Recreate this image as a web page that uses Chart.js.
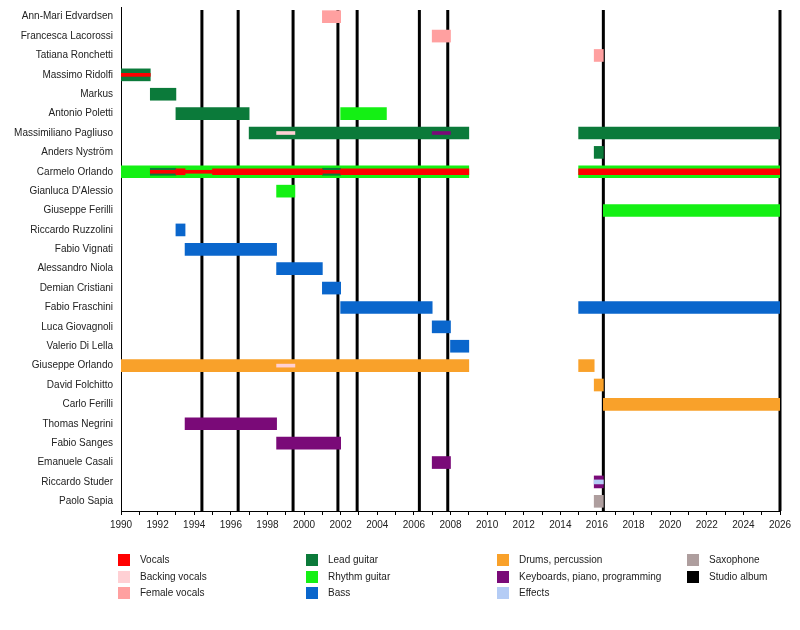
<!DOCTYPE html>
<html>
<head>
<meta charset="utf-8">
<script src="https://cdn.jsdelivr.net/npm/chart.js@4"></script>
<style>
  body { margin: 0; background: #fff; font-family: 'Liberation Sans', Arial, sans-serif; overflow: hidden; }
  #wrap { position: relative; width: 800px; height: 547px; margin-top: -7px; }
  #legend { position: absolute; left: 0; top: 0; width: 800px; height: 630px; pointer-events: none; }
  .item { position: absolute; font-size: 10px; color: #222; line-height: 12px; white-space: nowrap; }
  .item span { position: absolute; left: 0; top: 0; width: 12px; height: 12px; }
  .item b { font-weight: normal; position: absolute; left: 22px; top: 0; }
</style>
</head>
<body>
<div id="wrap"><canvas id="chart"></canvas></div>
<div id="legend"></div>
<script>
const members = ['Ann-Mari Edvardsen', 'Francesca Lacorossi', 'Tatiana Ronchetti', 'Massimo Ridolfi', 'Markus',
  'Antonio Poletti', 'Massimiliano Pagliuso', 'Anders Nyström', 'Carmelo Orlando', "Gianluca D'Alessio",
  'Giuseppe Ferilli', 'Riccardo Ruzzolini', 'Fabio Vignati', 'Alessandro Niola', 'Demian Cristiani',
  'Fabio Fraschini', 'Luca Giovagnoli', 'Valerio Di Lella', 'Giuseppe Orlando', 'David Folchitto',
  'Carlo Ferilli', 'Thomas Negrini', 'Fabio Sanges', 'Emanuele Casali', 'Riccardo Studer', 'Paolo Sapia'];

// main roles: [member, from, to]
const femaleVocals = [['Ann-Mari Edvardsen', 2001, 2002], ['Francesca Lacorossi', 2007, 2008], ['Tatiana Ronchetti', 2015.85, 2016.35]];
const leadGuitar = [['Massimo Ridolfi', 1990, 1991.6], ['Markus', 1991.6, 1993], ['Antonio Poletti', 1993, 1997],
  ['Massimiliano Pagliuso', 1997, 2009], ['Massimiliano Pagliuso', 2015, 2026], ['Anders Nyström', 2015.85, 2016.35]];
const rhythmGuitar = [['Antonio Poletti', 2002, 2004.5], ['Carmelo Orlando', 1990, 2009], ['Carmelo Orlando', 2015, 2026],
  ["Gianluca D'Alessio", 1998.5, 1999.5], ['Giuseppe Ferilli', 2016.35, 2026]];
const bass = [['Riccardo Ruzzolini', 1993, 1993.5], ['Fabio Vignati', 1993.5, 1998.5], ['Alessandro Niola', 1998.5, 2001],
  ['Demian Cristiani', 2001, 2002], ['Fabio Fraschini', 2002, 2007], ['Fabio Fraschini', 2015, 2026],
  ['Luca Giovagnoli', 2007, 2008], ['Valerio Di Lella', 2008, 2009]];
const drums = [['Giuseppe Orlando', 1990, 2009], ['Giuseppe Orlando', 2015, 2015.85], ['David Folchitto', 2015.85, 2016.35],
  ['Carlo Ferilli', 2016.35, 2026]];
const keyboards = [['Thomas Negrini', 1993.5, 1998.5], ['Fabio Sanges', 1998.5, 2002], ['Emanuele Casali', 2007, 2008],
  ['Riccardo Studer', 2015.85, 2016.35]];
const saxophone = [['Paolo Sapia', 2015.85, 2016.35]];

// secondary roles
const leadGuitarBand = [['Carmelo Orlando', 1991.6, 1993], ['Carmelo Orlando', 2001, 2002]];
const vocalsBand = [['Carmelo Orlando', 1993, 1993.5], ['Carmelo Orlando', 1995, 2001], ['Carmelo Orlando', 2002, 2009],
  ['Carmelo Orlando', 2015, 2026]];
const vocalsLine = [['Massimo Ridolfi', 1990, 1991.6], ['Carmelo Orlando', 1991.6, 1993], ['Carmelo Orlando', 1993.5, 1995],
  ['Carmelo Orlando', 2001, 2002]];
const backingVocalsLine = [['Massimiliano Pagliuso', 1998.5, 1999.5], ['Giuseppe Orlando', 1998.5, 1999.5]];
const keyboardsLine = [['Massimiliano Pagliuso', 2007, 2008]];
const effectsLine = [['Riccardo Studer', 2015.85, 2016.35]];

const albums = [1994.42, 1996.4, 1999.4, 2001.85, 2002.9, 2006.3, 2007.85, 2016.35, 2026];

const colors = {
  'Vocals': '#ff0000', 'Backing vocals': '#ffd0d4', 'Female vocals': '#ffa0a0',
  'Lead guitar': '#0b7a3a', 'Rhythm guitar': '#14f014', 'Bass': '#0a66cc',
  'Drums, percussion': '#f9a12a', 'Keyboards, piano, programming': '#7a0a78', 'Effects': '#b4ccf5',
  'Saxophone': '#ae9e9e', 'Studio album': '#000000'
};

const spans = (list) => list.map(([m, s, e]) => ({ y: m, x: [s, e] }));
const layer = (list, role, thickness, order) => ({
  label: role, data: spans(list), backgroundColor: colors[role],
  barThickness: thickness, grouped: false, borderWidth: 0, order: order
});

const datasets = [
  layer(femaleVocals, 'Female vocals', 12, 3),
  layer(leadGuitar, 'Lead guitar', 12, 3),
  layer(rhythmGuitar, 'Rhythm guitar', 12, 3),
  layer(bass, 'Bass', 12, 3),
  layer(drums, 'Drums, percussion', 12, 3),
  layer(keyboards, 'Keyboards, piano, programming', 12, 3),
  layer(saxophone, 'Saxophone', 12, 3),
  layer(leadGuitarBand, 'Lead guitar', 7, 2),
  layer(vocalsBand, 'Vocals', 6, 1),
  layer(vocalsLine, 'Vocals', 3, 0),
  layer(backingVocalsLine, 'Backing vocals', 3, 0),
  layer(keyboardsLine, 'Keyboards, piano, programming', 3, 0),
  layer(effectsLine, 'Effects', 4, 0)
];

const albumLines = {
  id: 'albumLines',
  beforeDatasetsDraw(chart) {
    const { ctx, chartArea, scales } = chart;
    ctx.save();
    ctx.strokeStyle = colors['Studio album'];
    ctx.lineWidth = 3;
    albums.forEach((yr) => {
      const x = scales.x.getPixelForValue(yr);
      ctx.beginPath();
      ctx.moveTo(x, chartArea.top + 3);
      ctx.lineTo(x, chartArea.bottom);
      ctx.stroke();
    });
    ctx.restore();
  }
};

const font = { family: "'Liberation Sans', Arial, sans-serif", size: 10 };

new Chart(document.getElementById('chart'), {
  type: 'bar',
  data: { labels: members, datasets: datasets },
  plugins: [albumLines],
  options: {
    indexAxis: 'y',
    responsive: true,
    maintainAspectRatio: false,
    animation: false,
    layout: { padding: { top: 0, right: 20, left: 0, bottom: 0 } },
    plugins: { legend: { display: false }, tooltip: { enabled: false } },
    scales: {
      x: {
        type: 'linear', min: 1990, max: 2026,
        afterFit: (s) => { s.height = 29; },
        ticks: {
          stepSize: 1, autoSkip: false, maxRotation: 0, padding: 4, color: '#222', font: font,
          callback: (v) => (v % 2 === 0 ? String(v) : '')
        },
        grid: { drawOnChartArea: false, tickLength: 4, color: '#000' },
        border: { color: '#000' }
      },
      y: {
        type: 'category',
        afterFit: (s) => { s.width = 121; },
        ticks: { color: '#222', font: font, padding: 8, autoSkip: false },
        grid: { display: false, drawTicks: false },
        border: { color: '#000' }
      }
    }
  }
});

// legend, 4 columns filled top to bottom
const legendCols = [['Vocals', 'Backing vocals', 'Female vocals'], ['Lead guitar', 'Rhythm guitar', 'Bass'],
  ['Drums, percussion', 'Keyboards, piano, programming', 'Effects'], ['Saxophone', 'Studio album']];
const colX = [118, 306, 497, 687];
const legend = document.getElementById('legend');
legendCols.forEach((col, c) => {
  col.forEach((name, r) => {
    const d = document.createElement('div');
    d.className = 'item';
    d.style.left = colX[c] + 'px';
    d.style.top = (554 + r * 16.5) + 'px';
    d.innerHTML = '<span style="background:' + colors[name] + '"></span><b>' + name + '</b>';
    legend.appendChild(d);
  });
});
</script>
</body>
</html>
